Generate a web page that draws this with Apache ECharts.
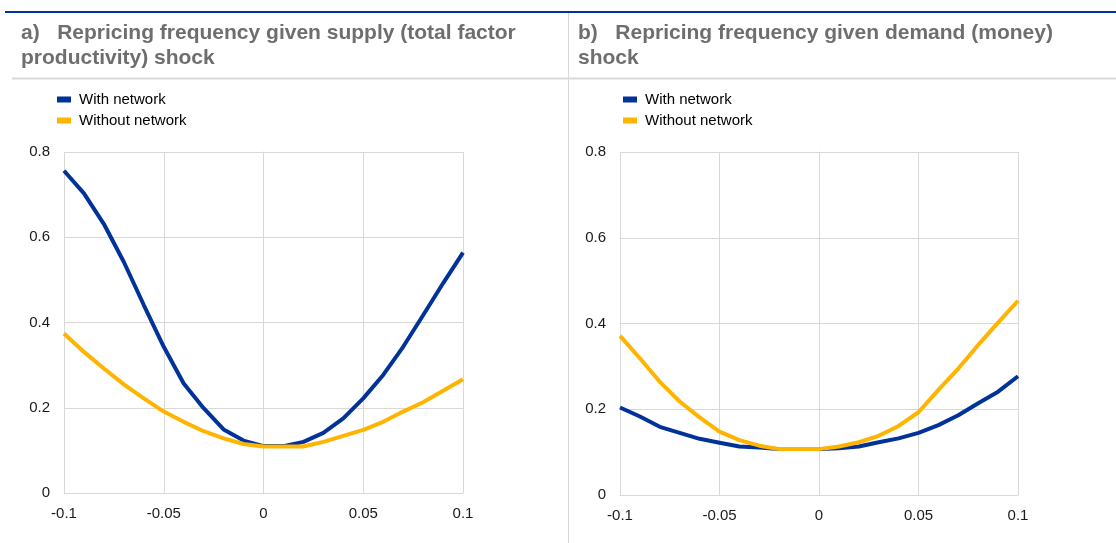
<!DOCTYPE html>
<html>
<head>
<meta charset="utf-8">
<script src="https://cdn.jsdelivr.net/npm/echarts@6/dist/echarts.min.js"></script>
<style>
html,body{margin:0;padding:0;background:#fff;}
#c{width:1116px;height:543px;}
</style>
</head>
<body>
<div id="c"></div>
<script>
// Shock sizes (x axis)
var shocks = [-0.1,-0.09,-0.08,-0.07,-0.06,-0.05,-0.04,-0.03,-0.02,-0.01,0,0.01,0.02,0.03,0.04,0.05,0.06,0.07,0.08,0.09,0.1];
// Panel a: supply (TFP) shock
var supplyWith = [0.756,0.703,0.631,0.542,0.441,0.343,0.257,0.199,0.149,0.123,0.110,0.110,0.120,0.141,0.175,0.222,0.277,0.343,0.417,0.492,0.564];
var supplyWithout = [0.374,0.331,0.292,0.255,0.222,0.191,0.167,0.145,0.128,0.115,0.109,0.109,0.109,0.120,0.134,0.148,0.167,0.191,0.213,0.240,0.267];
// Panel b: demand (money) shock
var demandWith = [0.204,0.183,0.159,0.145,0.131,0.122,0.113,0.111,0.107,0.107,0.107,0.109,0.113,0.123,0.132,0.145,0.163,0.186,0.214,0.241,0.277];
var demandWithout = [0.371,0.319,0.264,0.218,0.181,0.148,0.128,0.115,0.107,0.107,0.107,0.113,0.123,0.138,0.161,0.193,0.245,0.295,0.350,0.402,0.453];
// Labels
var seriesNames = ['With network','Without network'];
var titleA = ['a)   Repricing frequency given supply (total factor', 'productivity) shock'];
var titleB = ['b)   Repricing frequency given demand (money)', 'shock'];

var BLUE = '#003299', YELLOW = '#FFB400', GRID = '#d9d9d9';
var FONT = '"Liberation Sans", Arial, sans-serif';

function pairs(ys){ return shocks.map(function(x,i){ return [x, ys[i]]; }); }

function xAxis(idx){
  return {
    type:'value', gridIndex: idx, min:-0.1, max:0.1, interval:0.05,
    axisLine:{show:true, lineStyle:{color:GRID, width:1}},
    axisTick:{show:false},
    splitLine:{show:true, lineStyle:{color:GRID, width:1}},
    axisLabel:{color:'#1a1a1a', fontSize:15, fontFamily:FONT, margin:13,
      formatter:function(v){ return String(Math.round(v*100)/100); }}
  };
}
function yAxis(idx){
  return {
    type:'value', gridIndex: idx, min:0, max:0.8, interval:0.2,
    axisLine:{show:true, lineStyle:{color:GRID, width:1}},
    axisTick:{show:false},
    splitLine:{show:true, lineStyle:{color:GRID, width:1}},
    axisLabel:{color:'#1a1a1a', fontSize:15, fontFamily:FONT, margin:14,
      formatter:function(v){ return String(Math.round(v*10)/10); }}
  };
}
function line(name, data, color, idx){
  return {
    name:name, type:'line', xAxisIndex:idx, yAxisIndex:idx,
    data:pairs(data), showSymbol:false, symbol:'none', smooth:false,
    lineStyle:{color:color, width:4}, itemStyle:{color:color},
    silent:true, animation:false, z: (color===YELLOW?3:2)
  };
}
function legend(left){
  return {
    data:seriesNames, orient:'vertical', left:left, top:87,
    itemWidth:14, itemHeight:6, itemGap:6, icon:'rect',
    textStyle:{color:'#000', fontSize:15, fontFamily:FONT, padding:[0,0,0,3]},
    selectedMode:false
  };
}

var chart = echarts.init(document.getElementById('c'), null, {renderer:'canvas'});
chart.setOption({
  animation:false,
  backgroundColor:'#fff',
  grid:[
    {left:64, top:152, width:399, height:341},
    {left:620, top:152, width:398, height:343}
  ],
  xAxis:[xAxis(0), xAxis(1)],
  yAxis:[yAxis(0), yAxis(1)],
  legend:[legend(52), legend(618)],
  series:[
    line(seriesNames[0], supplyWith, BLUE, 0),
    line(seriesNames[1], supplyWithout, YELLOW, 0),
    line(seriesNames[0], demandWith, BLUE, 1),
    line(seriesNames[1], demandWithout, YELLOW, 1)
  ],
  graphic:[
    {type:'line', shape:{x1:5,y1:12,x2:1116,y2:12}, style:{stroke:BLUE, lineWidth:2}},
    {type:'line', shape:{x1:12,y1:78.5,x2:1116,y2:78.5}, style:{stroke:GRID, lineWidth:2}},
    {type:'line', shape:{x1:568.5,y1:13,x2:568.5,y2:543}, style:{stroke:GRID, lineWidth:1}},
    {type:'text', left:21, top:21, style:{text:titleA.join('\n'), fill:'#6e6e6e', font:'bold 21px '+FONT, lineHeight:25}},
    {type:'text', left:578, top:21, style:{text:titleB.join('\n'), fill:'#6e6e6e', font:'bold 21px '+FONT, lineHeight:25}}
  ]
});
</script>
</body>
</html>
